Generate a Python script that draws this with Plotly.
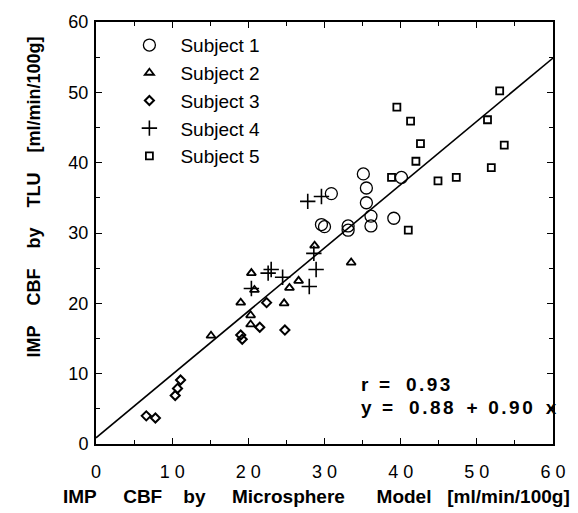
import plotly.graph_objects as go

# ---- data ----
s1_x = [30.9, 35.1, 35.5, 35.5, 36.1, 36.1, 39.1, 40.1, 29.6, 30.0, 33.1, 33.1]
s1_y = [35.6, 38.4, 36.4, 34.3, 32.4, 31.0, 32.1, 37.9, 31.2, 30.9, 31.0, 30.4]

s2_x = [28.7, 33.5, 20.4, 20.8, 25.4, 26.6, 19.0, 24.7, 20.3, 20.3, 15.1]
s2_y = [28.2, 25.8, 24.3, 21.9, 22.2, 23.2, 20.1, 20.0, 18.3, 17.0, 15.4]

s3_x = [6.6, 7.8, 10.4, 10.7, 11.1, 19.0, 19.2, 21.5, 22.4, 24.8]
s3_y = [4.0, 3.7, 6.9, 7.9, 9.1, 15.5, 14.9, 16.6, 20.1, 16.2]

s4_x = [27.8, 29.6, 28.6, 28.9, 28.0, 23.0, 22.6, 24.5, 20.4]
s4_y = [34.5, 35.2, 27.1, 24.8, 22.4, 24.8, 24.3, 23.7, 22.1]

s5_x = [39.5, 41.3, 53.0, 51.4, 42.6, 53.6, 42.0, 38.8, 44.9, 47.3, 51.9, 41.0]
s5_y = [47.9, 45.9, 50.2, 46.1, 42.7, 42.5, 40.2, 37.9, 37.4, 37.9, 39.3, 30.4]

fit_intercept = 0.88
fit_slope = 0.90
fit_x = [0, 60]
fit_y = [fit_intercept + fit_slope * v for v in fit_x]

x_tickvals = [0, 10, 20, 30, 40, 50, 60]
x_ticktext = ["0", "1 0", "2 0", "3 0", "4 0", "5 0", "6 0"]
y_tickvals = [0, 10, 20, 30, 40, 50, 60]

FONT = "Arial, Liberation Sans, Helvetica, sans-serif"
SP = "\u00a0"

fig = go.Figure()

fig.add_trace(go.Scatter(x=fit_x, y=fit_y, mode="lines",
                         line=dict(color="black", width=1.6), showlegend=False,
                         hoverinfo="skip"))

series = [
    ("Subject 1", s1_x, s1_y, "circle-open", 12, 1.3),
    ("Subject 2", s2_x, s2_y, "triangle-up-open", 8, 1.8),
    ("Subject 3", s3_x, s3_y, "diamond-open", 7, 2.0),
    ("Subject 4", s4_x, s4_y, "cross-thin-open", 11, 1.6),
    ("Subject 5", s5_x, s5_y, "square-open", 7, 1.8),
]
for name, xs, ys, sym, size, lw in series:
    fig.add_trace(go.Scatter(
        x=xs, y=ys, mode="markers", name=name,
        marker=dict(symbol=sym, size=size, color="black",
                    line=dict(color="black", width=lw)),
    ))

axis_common = dict(
    showline=True, linecolor="black", linewidth=2, mirror="ticks",
    ticks="inside", ticklen=6, tickwidth=1.3, tickcolor="black",
    showgrid=False, zeroline=False,
    minor=dict(ticks="inside", ticklen=4, tickwidth=1, tickcolor="black", dtick=5),
    tickfont=dict(family=FONT, size=18, color="black"),
)

fig.update_xaxes(range=[0, 60], tickvals=x_tickvals, ticktext=x_ticktext,
                 ticklabelstandoff=10, **axis_common)
fig.update_yaxes(range=[0, 60], tickvals=y_tickvals, ticklabelstandoff=2,
                 **axis_common)

def spaced(words, gaps):
    out = words[0]
    for w, g in zip(words[1:], gaps):
        out += SP * g + w
    return out

def loose(word):
    return "<span style='letter-spacing:2.5px'>" + word + "</span>"

x_title = spaced(["IMP", "CBF", "by", "Microsphere", "Model", "[ml/min/100g]"],
                 [5, 4, 5, 6, 3])
y_title = spaced(["IMP", "CBF", "by", "TLU", "[ml/min/100g]"], [4, 4, 4, 4])
r_text = spaced(["r", "=", loose("0.93")], [2, 3])
eq_text = spaced(["y", "=", loose("0.88"), "+", loose("0.90"), "x"], [2, 3, 2, 2, 2])

fig.update_layout(
    width=578, height=513,
    margin=dict(l=96, r=15, t=15, b=69),
    paper_bgcolor="white", plot_bgcolor="white",
    font=dict(family=FONT, color="black"),
    showlegend=True,
    legend=dict(x=0.049, y=0.99, xanchor="left", yanchor="top",
                bgcolor="rgba(0,0,0,0)", borderwidth=0,
                font=dict(family=FONT, size=19, color="black"),
                itemwidth=52),
    annotations=[
        dict(text=r_text, x=0.576, y=0.142, xref="paper", yref="paper",
             xanchor="left", yanchor="middle", showarrow=False,
             font=dict(family=FONT, size=19, color="black", weight="bold")),
        dict(text=eq_text, x=0.576, y=0.086, xref="paper", yref="paper",
             xanchor="left", yanchor="middle", showarrow=False,
             font=dict(family=FONT, size=19, color="black", weight="bold")),
        dict(text=x_title,
             x=-0.077, y=-0.124, xref="paper", yref="paper",
             xanchor="left", yanchor="middle", showarrow=False,
             font=dict(family=FONT, size=19, color="black", weight="bold")),
        dict(text=y_title, textangle=-90,
             x=-0.135, y=0.585, xref="paper", yref="paper",
             xanchor="center", yanchor="middle", showarrow=False,
             font=dict(family=FONT, size=18, color="black", weight="bold")),
    ],
)

fig.write_html("out.html")
